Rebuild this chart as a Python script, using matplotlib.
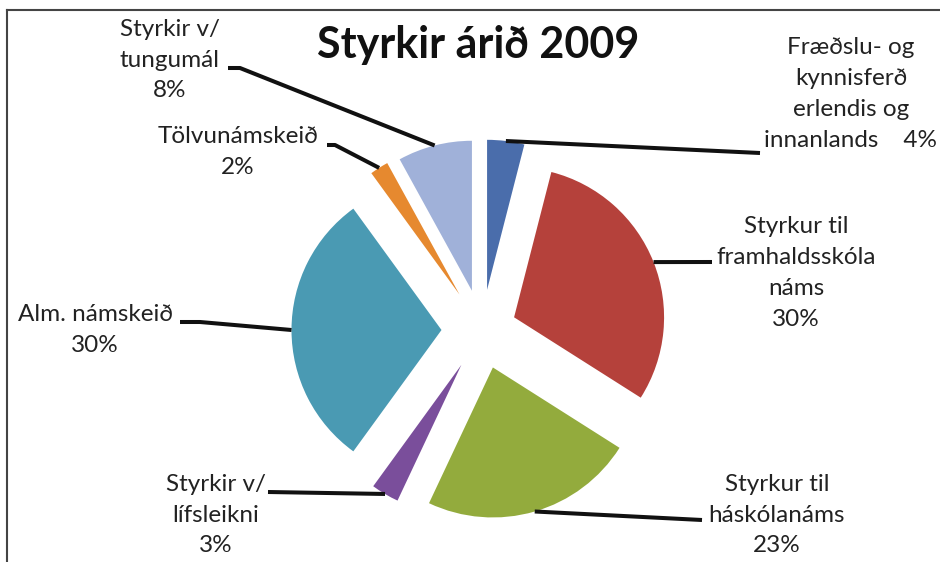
import numpy as np
import matplotlib.pyplot as plt
from matplotlib.lines import Line2D

# =========================================================
# DATA
# =========================================================
categories = [
    "Fræðslu- og\nkynnisferð\nerlendis og\ninnanlands",
    "Styrkur til\nframhaldsskóla\nnáms",
    "Styrkur til\nháskólanáms",
    "Styrkir v/\nlífsleikni",
    "Alm. námskeið",
    "Tölvunámskeið",
    "Styrkir v/\ntungumál",
]
shares = [4, 30, 23, 3, 30, 2, 8]
title = "Styrkir árið 2009"

# =========================================================
# STYLE / LAYOUT
# =========================================================
colors = ["#4A6DAB", "#B5413B", "#93AB3D", "#7A4E9B", "#4A9AB3", "#E6892F", "#A0B1D9"]
explode = [0.27, 0.23, 0.26, 0.27, 0.27, 0.28, 0.27]

W, H = 940, 562
CX, CY, R_PX = 482, 330, 150   # pie centre and radius in pixels

# label block centres (pixels, y down)
label_xy = [(851, 94), (796, 273), (777, 515), (216, 515), (95, 330), (238, 152), (170, 60)]
# leader line end next to label, plus optional elbow
leader_end = [(760, 153), (712, 262), (702, 520), (268, 492), (180, 322), (327, 145), (228, 68)]
leader_elbow = [None, None, None, None, (200, 322), (335, 145), (240, 68)]

FONT = ["Lato", "DejaVu Sans"]
TEXT_COLOR = "#222222"


def px(x, y):
    return (x - CX) / R_PX, (CY - y) / R_PX


def main():
    plt.rcParams["font.family"] = FONT
    fig = plt.figure(figsize=(W / 100, H / 100), dpi=100)
    ax = fig.add_axes([0, 0, 1, 1])

    wedges, _ = ax.pie(
        shares, colors=colors, explode=explode, startangle=90,
        counterclock=False, radius=1, center=(0, 0),
        wedgeprops=dict(linewidth=0),
    )
    ax.set_xlim(-CX / R_PX, (W - CX) / R_PX)
    ax.set_ylim(-(H - CY) / R_PX, CY / R_PX)
    ax.set_aspect("auto")
    ax.axis("off")

    for i, w in enumerate(wedges):
        tm = np.deg2rad(0.5 * (w.theta1 + w.theta2))
        x0 = w.center[0] + w.r * np.cos(tm)
        y0 = w.center[1] + w.r * np.sin(tm)
        pts = [(x0, y0)]
        if leader_elbow[i] is not None:
            pts.append(px(*leader_elbow[i]))
        pts.append(px(*leader_end[i]))
        xs, ys = zip(*pts)
        ax.plot(xs, ys, color="#111111", lw=2.9, solid_capstyle="butt")

        if i == 0:
            text = categories[i] + f"    {shares[i]}%"
        else:
            text = categories[i] + f"\n{shares[i]}%"
        lx, ly = px(*label_xy[i])
        ax.text(lx, ly, text, ha="center", va="center", multialignment="center",
                fontsize=17.5, color=TEXT_COLOR, linespacing=1.57)

    tx, ty = px(478, 58)
    ax.text(tx, ty, title, ha="center", va="baseline", fontsize=31,
            fontweight="bold", color="#111111")

    # frame lines (top and left)
    fig.add_artist(Line2D([7.5 / W, 1], [1 - 9.5 / H, 1 - 9.5 / H],
                          transform=fig.transFigure, color="#444444", lw=1.5))
    fig.add_artist(Line2D([7.5 / W, 7.5 / W], [0, 1 - 9.5 / H],
                          transform=fig.transFigure, color="#444444", lw=1.5))

    fig.savefig("out.png", dpi=100)
    plt.close(fig)


if __name__ == "__main__":
    main()
